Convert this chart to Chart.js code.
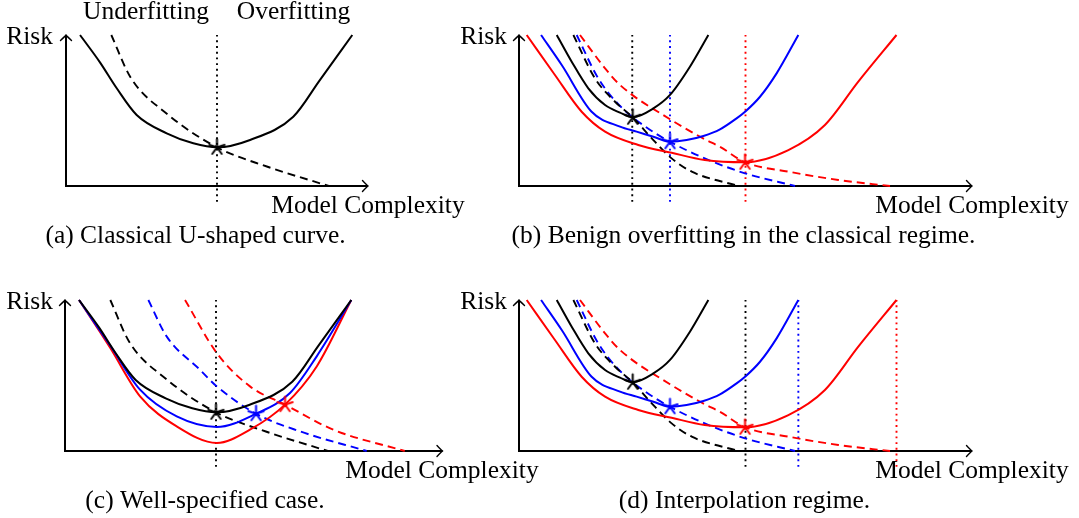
<!DOCTYPE html>
<html>
<head>
<meta charset="utf-8">
<script src="https://cdn.jsdelivr.net/npm/chart.js@4.4.1/dist/chart.umd.min.js"></script>
<style>
  body { margin: 0; background: #fff; }
  #page { position: relative; width: 1079px; height: 518px; overflow: hidden; }
  canvas { position: absolute; }
</style>
</head>
<body>
<div id="page">
  <canvas id="pa"></canvas>
  <canvas id="pb"></canvas>
  <canvas id="pc"></canvas>
  <canvas id="pd"></canvas>
</div>
<script>
// px per unit of the drawing grid
const U = 15.1
const FONT = "25.5px 'Liberation Serif'"

// (a) and (c): classical test risk and its dashed companion
const uX = [0.93, 2.25, 3.36, 4.68, 6.67, 8.43, 10.0, 12.19, 15.05, 16.8, 18.96]
const uY = [10, 8.19, 6.47, 4.70, 3.49, 2.83, 2.56, 3.05, 4.59, 7.0, 10]
const dashX = [3.0, 4.27, 6.7, 10.0, 13.3, 17.4]
const dashY = [10, 7.2, 4.77, 2.56, 1.29, 0]

// (c) blue / red
const cBlueX = [0.93, 2.98, 4.97, 7.4, 10.05, 12.65, 14.9, 16.67, 18.96]
const cBlueY = [10, 7.0, 4.06, 2.29, 1.59, 2.47, 3.84, 6.27, 10]
const cRedX = [0.93, 2.98, 4.97, 7.4, 10.05, 12.25, 14.57, 16.67, 18.96]
const cRedY = [10, 6.85, 3.62, 1.63, 0.53, 1.41, 3.07, 5.6, 10]
const cBlueDashX = [5.52, 6.73, 8.94, 10.05, 12.65, 15.56, 19.98]
const cBlueDashY = [10, 7.59, 5.38, 4.28, 2.47, 1.3, 0]
const cRedDashX = [7.95, 10.05, 12.25, 14.57, 17.77, 22.5]
const cRedDashY = [10, 6.49, 4.28, 3.07, 1.41, 0]
const cStars = [[10.0, 2.56], [12.65, 2.47], [14.57, 3.07]]

// (b) and (d) share the curves
const bBlackX = [2.5, 3.49, 4.59, 5.7, 6.69, 7.53, 8.9, 10.0, 11.32, 12.54]
const bBlackY = [10, 8.23, 6.47, 5.36, 4.86, 4.55, 5.14, 6.03, 7.9, 10]
const bBlackDashX = [3.6, 5.03, 6.36, 7.53, 8.79, 10.11, 11.44, 14.52]
const bBlackDashY = [10, 7.13, 5.58, 4.55, 3.16, 1.83, 0.95, 0]
const bBlueX = [1.46, 2.83, 4.81, 6.69, 7.79, 8.9, 10.0, 11.1, 12.21, 13.31, 14.41, 15.03, 15.96, 17.06, 18.5]
const bBlueY = [10, 8.01, 4.92, 3.93, 3.6, 3.26, 2.93, 3.04, 3.31, 3.75, 4.48, 4.97, 5.91, 7.46, 10]
const bBlueDashX = [3.82, 5.25, 6.69, 8.34, 10.0, 12.3, 14.97, 18.28]
const bBlueDashY = [10, 7.13, 5.3, 3.95, 2.93, 1.83, 0.84, 0]
const bRedX = [0.51, 2.38, 4.15, 5.7, 7.9, 10.11, 12.3, 14.97, 17.84, 20.26, 22.47, 25.0]
const bRedY = [10, 7.35, 4.92, 3.6, 2.72, 2.2, 1.72, 1.57, 2.38, 4.04, 6.91, 10]
const bRedDashX = [4.04, 5.7, 6.69, 10.0, 12.3, 13.3, 14.97, 17.84, 21.15, 24.57]
const bRedDashY = [10, 7.79, 6.69, 4.42, 3.1, 2.6, 1.57, 0.95, 0.4, 0]
const bStars = [[7.53, 4.55], [10.0, 2.93], [14.97, 1.57]]

// vertical dotted markers
const aDots = [10]
const bDots = [7.5, 10, 15]
const cDots = [10]
const dDots = [15, 18.5, 25]
const dotBottom = -1.05

// labels
const riskLabel = 'Risk'
const xLabel = 'Model Complexity'
const regimeLabels = ['Underfitting', 'Overfitting']
const captions = [
  '(a) Classical U-shaped curve.',
  '(b) Benign overfitting in the classical regime.',
  '(c) Well-specified case.',
  '(d) Interpolation regime.'
]

const BLACK = '#000000'
const BLUE = '#0000ff'
const RED = '#ff0000'
const COLORS = [BLACK, BLUE, RED]

function pts (xs, ys) {
  return xs.map((x, i) => ({ x: x, y: ys[i] }))
}

function makeStar (color) {
  const c = document.createElement('canvas')
  c.width = 21
  c.height = 21
  const g = c.getContext('2d')
  g.strokeStyle = color
  g.lineWidth = 2
  g.lineCap = 'round'
  g.beginPath()
  for (let k = 0; k < 5; k++) {
    const a = -Math.PI / 2 + k * 2 * Math.PI / 5
    g.moveTo(10.5, 10.5)
    g.lineTo(10.5 + 8 * Math.cos(a), 10.5 + 8 * Math.sin(a))
  }
  g.stroke()
  return c
}

function solid (data, color) {
  return { data: data, borderColor: color, borderWidth: 2, pointRadius: 0, showLine: true, cubicInterpolationMode: 'monotone', order: 2 }
}
function dashed (data, color) {
  return { data: data, borderColor: color, borderWidth: 1.9, borderDash: [8, 5], pointRadius: 0, showLine: true, cubicInterpolationMode: 'monotone', order: 3 }
}
function dotted (x, color) {
  return { data: [{ x: x, y: dotBottom }, { x: x, y: 10 }], borderColor: color, borderWidth: 1.9, borderDash: [1.9, 3.8], pointRadius: 0, showLine: true, order: 4 }
}
function star (p, color) {
  return { data: [{ x: p[0], y: p[1] }], pointStyle: makeStar(color), pointRadius: 10, showLine: false, order: 0 }
}

const axisArrows = {
  id: 'axisArrows',
  beforeDatasetsDraw (chart, args, opts) {
    const { ctx } = chart
    const sx = chart.scales.x
    const sy = chart.scales.y
    const x0 = sx.getPixelForValue(0)
    const y0 = sy.getPixelForValue(0)
    const xe = sx.getPixelForValue(opts.xEnd)
    const yt = sy.getPixelForValue(10)
    ctx.save()
    ctx.strokeStyle = '#000'
    ctx.lineWidth = 2
    ctx.beginPath()
    ctx.moveTo(x0, yt)
    ctx.lineTo(x0, y0)
    ctx.lineTo(xe, y0)
    ctx.stroke()
    ctx.lineWidth = 1.4
    ctx.lineCap = 'round'
    ctx.beginPath()
    ctx.moveTo(xe - 5.5, y0 - 5.5)
    ctx.quadraticCurveTo(xe - 1.5, y0 - 1.2, xe, y0)
    ctx.quadraticCurveTo(xe - 1.5, y0 + 1.2, xe - 5.5, y0 + 5.5)
    ctx.moveTo(x0 - 5.5, yt + 5.5)
    ctx.quadraticCurveTo(x0 - 1.2, yt + 1.5, x0, yt)
    ctx.quadraticCurveTo(x0 + 1.2, yt + 1.5, x0 + 5.5, yt + 5.5)
    ctx.stroke()
    ctx.restore()
  }
}

// text labels, given in page coordinates
function labelPlugin (texts, left, top) {
  return {
    id: 'labels',
    afterDraw (chart) {
      const ctx = chart.ctx
      ctx.save()
      ctx.font = FONT
      ctx.fillStyle = '#000'
      ctx.textBaseline = 'alphabetic'
      texts.forEach(t => {
        ctx.textAlign = t[3] || 'center'
        ctx.fillText(t[0], t[1] - left, t[2] - top)
      })
      ctx.restore()
    }
  }
}

const padL = 20
const padR = 12
const padT = 10
const padB = 26

// box: canvas rect on the page; ox, oy: axis origin on the page
function makePanel (id, box, ox, oy, xEnd, datasets, texts) {
  const el = document.getElementById(id)
  const [cl, ct, cw, ch] = box
  el.width = cw
  el.height = ch
  el.style.left = cl + 'px'
  el.style.top = ct + 'px'
  const al = ox - padL
  const ar = ox + xEnd * U + padR
  const at = oy - 10 * U - padT
  const ab = oy + padB
  return new Chart(el, {
    type: 'scatter',
    data: { datasets: datasets },
    options: {
      responsive: false,
      animation: false,
      events: [],
      layout: { padding: { left: al - cl, right: cl + cw - ar, top: at - ct, bottom: ct + ch - ab } },
      scales: {
        x: { type: 'linear', display: false, min: -padL / U, max: xEnd + padR / U },
        y: { type: 'linear', display: false, min: -padB / U, max: 10 + padT / U }
      },
      plugins: { legend: { display: false }, tooltip: { enabled: false }, axisArrows: { xEnd: xEnd } }
    },
    plugins: [axisArrows, labelPlugin(texts, cl, ct)]
  })
}

const bCurves = () => [
  ...bStars.map((p, i) => star(p, COLORS[i])),
  solid(pts(bBlackX, bBlackY), BLACK),
  solid(pts(bBlueX, bBlueY), BLUE),
  solid(pts(bRedX, bRedY), RED),
  dashed(pts(bBlackDashX, bBlackDashY), BLACK),
  dashed(pts(bBlueDashX, bBlueDashY), BLUE),
  dashed(pts(bRedDashX, bRedDashY), RED)
]

makePanel('pa', [0, 0, 478, 262], 66, 186, 20, [
  star([10, 2.56], BLACK),
  solid(pts(uX, uY), BLACK),
  dashed(pts(dashX, dashY), BLACK),
  ...aDots.map(x => dotted(x, BLACK))
], [
  [regimeLabels[0], 146, 19],
  [regimeLabels[1], 293.5, 19],
  [riskLabel, 53, 44, 'right'],
  [xLabel, 368, 213],
  [captions[0], 195.5, 243]
])

makePanel('pb', [440, 0, 639, 262], 519, 186, 30,
  [...bCurves(), ...bDots.map((x, i) => dotted(x, COLORS[i]))],
  [
    [riskLabel, 507, 44, 'right'],
    [xLabel, 972, 213],
    [captions[1], 743.5, 243]
  ])

makePanel('pc', [0, 262, 548, 256], 65, 451, 25, [
  ...cStars.map((p, i) => star(p, COLORS[i])),
  solid(pts(uX, uY), BLACK),
  solid(pts(cBlueX, cBlueY), BLUE),
  solid(pts(cRedX, cRedY), RED),
  dashed(pts(dashX, dashY), BLACK),
  dashed(pts(cBlueDashX, cBlueDashY), BLUE),
  dashed(pts(cRedDashX, cRedDashY), RED),
  ...cDots.map(x => dotted(x, BLACK))
], [
  [riskLabel, 53, 309, 'right'],
  [xLabel, 442, 478],
  [captions[2], 205, 508]
])

makePanel('pd', [452, 262, 627, 256], 519, 451, 30,
  [...bCurves(), ...dDots.map((x, i) => dotted(x, COLORS[i]))],
  [
    [riskLabel, 507, 309, 'right'],
    [xLabel, 972, 478],
    [captions[3], 744.5, 508]
  ])
</script>
</body>
</html>
